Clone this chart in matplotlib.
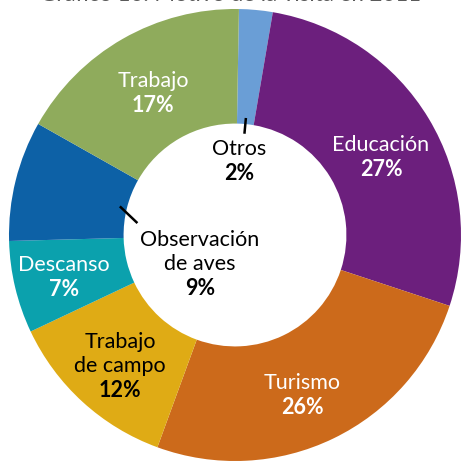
import numpy as np
import matplotlib.pyplot as plt

# Datos del gráfico (en sentido horario desde arriba); las etiquetas muestran el valor redondeado
labels = ["Otros", "Educación", "Turismo", "Trabajo\nde campo", "Descanso", "Observación\nde aves", "Trabajo"]
values = [2.4, 27.4, 25.5, 12.4, 6.6, 8.6, 17.1]
colors = ["#6a9ed6", "#6c1f7d", "#cc6a1b", "#dfab15", "#0ba1ad", "#0d61a6", "#8fab5c"]
text_colors = ["black", "white", "white", "black", "white", "black", "white"]
title = "Gráfico 10. Motivo de la visita en 2011"

# centro de cada bloque de etiqueta, en píxeles (x, y desde arriba)
label_pos = [(239, 161), (381, 157), (302, 395), (120, 366), (64, 277), (200, 264), (153, 93)]

plt.rcParams['font.family'] = ['Lato', 'DejaVu Sans']

W = 461
fig = plt.figure(figsize=(4.61, 4.61), dpi=100)
ax = fig.add_axes([0, 0, 1, 1])

cx, cy = 235, W - 235
R = 226
hole = 0.493

wedges, _ = ax.pie(values, colors=colors, startangle=89, counterclock=False,
                   radius=R, center=(cx, cy), frame=True,
                   wedgeprops=dict(width=R * (1 - hole), edgecolor='none'))
ax.set_xlim(0, W)
ax.set_ylim(0, W)
ax.set_aspect('equal')
ax.axis('off')

pitch = 24.5
for lab, v, tc, (px, py) in zip(labels, values, text_colors, label_pos):
    lines = lab.split("\n") + [f"{int(v + 0.5)}%"]
    n = len(lines)
    y0 = W - py
    for i, line in enumerate(lines):
        y = y0 + ((n - 1) / 2 - i) * pitch
        ax.text(px, y, line, ha='center', va='center', color=tc,
                fontsize=15.5, fontweight='bold' if i == n - 1 else 'normal')

# líneas guía para las etiquetas dentro del hueco
for i, (r1, r2, d_ang) in [(0, (0.52, 0.45, 0.0)), (5, (0.525, 0.435, 7.0))]:
    w = wedges[i]
    a1 = np.deg2rad((w.theta1 + w.theta2) / 2)
    a2 = a1 + np.deg2rad(d_ang)
    ax.plot([cx + r1 * R * np.cos(a1), cx + r2 * R * np.cos(a2)],
            [cy + r1 * R * np.sin(a1), cy + r2 * R * np.sin(a2)],
            color='black', lw=1.8, solid_capstyle='butt')

# título cortado en el borde superior, como en la imagen original
fig.text(0.5, 1 - 1 / W, title, ha='center', va='baseline', color='#5a5a5a',
         fontsize=16)

fig.savefig("out.png", dpi=100)
